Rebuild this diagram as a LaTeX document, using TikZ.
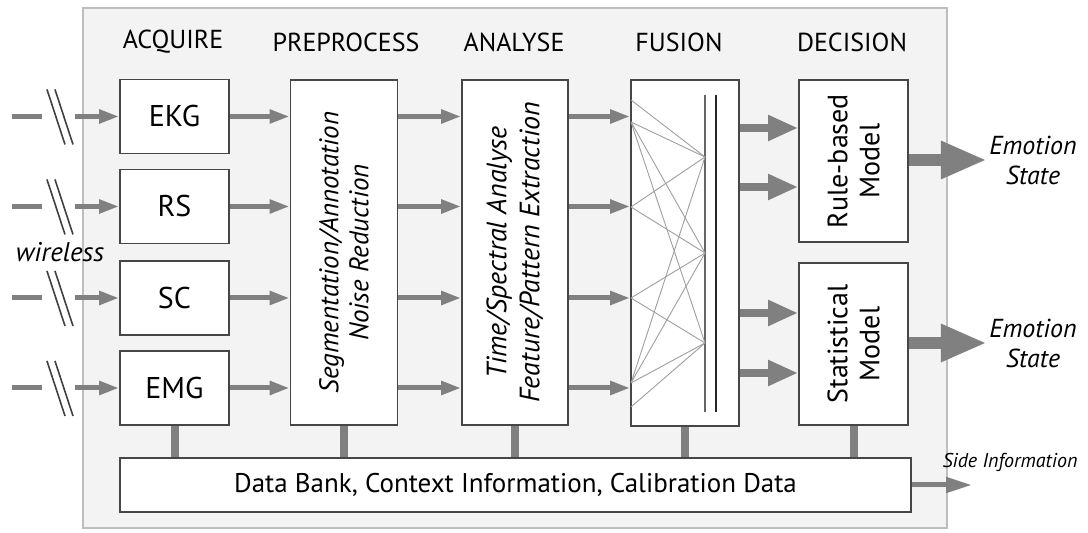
\documentclass[tikz,border=0pt]{standalone}
\usepackage{fontspec}
\setmainfont{PT Sans}
\usetikzlibrary{arrows.meta,positioning}
\definecolor{framefill}{RGB}{243,243,243}
\definecolor{framedraw}{RGB}{190,190,190}
\definecolor{arrowgray}{RGB}{128,128,128}
\definecolor{boxline}{RGB}{70,70,70}

\tikzset{
  stagebox/.style={draw=boxline,line width=0.8pt,fill=white,inner sep=0pt},
  header/.style={font=\fontsize{13}{15}\selectfont},
  thinarrow/.style={arrowgray,line width=2.5pt,-{Triangle[length=10pt,width=6.5pt]}},
  midarrow/.style={arrowgray,line width=4pt,-{Triangle[length=15pt,width=12pt]}},
  bigarrow/.style={arrowgray,line width=6pt,-{Triangle[length=23pt,width=17.5pt]}},
  busline/.style={arrowgray,line width=4pt},
  slashline/.style={black!75,line width=0.8pt},
  netline/.style={gray!75,line width=0.45pt},
  rottext/.style={rotate=90,align=center}
}

\begin{document}
\begin{tikzpicture}[x=0.5pt,y=-0.5pt]
  \useasboundingbox (0,0) rectangle (1088,533);
  \draw[framedraw,fill=framefill,line width=0.8pt] (83,8) rectangle (947,528);

  % stage headers
  \foreach \x/\t/\n in {173/ACQUIRE/hacq,346/PREPROCESS/hpre,514/ANALYSE/hana,679/FUSION/hfus,852/DECISION/hdec}
    \node[header] (\n) at (\x,42) {\t};

  % sensors and wireless inputs
  \foreach \y/\t/\n in {116.5/EKG/ekg,206.5/RS/rs,298/SC/sc,388/EMG/emg} {
    \node[stagebox,minimum width=54.5pt,minimum height=37pt,font=\fontsize{15}{17}\selectfont] (\n) at (174.5,\y) {\t};
    \coordinate (a\n) at (12,\y);
    \coordinate (b\n) at (42,\y);
    \coordinate (c\n) at (75,\y);
    \draw[busline,line width=2.5pt] (a\n) -- (b\n);
    \draw[slashline] ([shift={(5,-27)}]b\n) -- ([shift={(23,28)}]b\n);
    \draw[slashline] ([shift={(13,-27)}]b\n) -- ([shift={(31,28)}]b\n);
    \draw[thinarrow] (c\n) -- (\n.west);
  }
  \node[font=\itshape\fontsize{13.5}{15}\selectfont] (wl) at (60,252) {wireless};

  % processing stages
  \node[stagebox,minimum width=53.5pt,minimum height=172.5pt,
    label={[rottext,font=\itshape\fontsize{13.5}{15}\selectfont]center:Segmentation/Annotation\\Noise Reduction}]
    (pre) at (344,252.5) {};
  \node[stagebox,minimum width=53pt,minimum height=172.5pt,
    label={[rottext,font=\itshape\fontsize{14}{16.5}\selectfont]center:Time/Spectral Analyse\\Feature/Pattern Extraction}]
    (ana) at (515,252.5) {};
  \node[stagebox,minimum width=54pt,minimum height=173pt] (fus) at (685,253) {};
  \node[stagebox,minimum width=54.5pt,minimum height=81pt,
    label={[rottext,font=\fontsize{14}{16}\selectfont]center:Rule-based\\Model}]
    (rule) at (853.5,161) {};
  \node[stagebox,minimum width=54.5pt,minimum height=81pt,
    label={[rottext,font=\fontsize{14}{16}\selectfont]center:Statistical\\Model}]
    (stat) at (853.5,344) {};
  \node[stagebox,minimum width=395.5pt,minimum height=27pt,font=\fontsize{13.5}{15}\selectfont]
    (data) at (515.5,485) {Data Bank, Context Information, Calibration Data};

  % stage to stage
  \foreach \n in {ekg,rs,sc,emg} {
    \draw[thinarrow] (\n.east) -- (\n.east -| pre.west);
    \draw[thinarrow] (\n.east -| pre.east) -- (\n.east -| ana.west);
    \draw[thinarrow] (\n.east -| ana.east) -- (\n.east -| fus.west);
  }

  % fusion net
  \draw[gray!80!black,line width=1.1pt] (705,95) -- (705,412);
  \draw[black!85,line width=0.8pt] (716,95) -- (716,412);
  \foreach \ya/\yb in {100/157,122/157,122/253,122/343,207/157,207/253,298/253,298/343,383/157,383/253,383/343,407/343}
    \draw[netline] (631,\ya) -- (705,\yb);

  \foreach \y in {128,187}
    \draw[midarrow] (fus.east |- 0,\y) -- (rule.west |- 0,\y);
  \foreach \y in {313,373}
    \draw[midarrow] (fus.east |- 0,\y) -- (stat.west |- 0,\y);

  % outputs
  \node[align=center,inner sep=1pt,font=\itshape\fontsize{13}{15}\selectfont] (em1) at (1033,160) {Emotion\\State};
  \node[align=center,inner sep=1pt,font=\itshape\fontsize{13}{15}\selectfont] (em2) at (1033,343) {Emotion\\State};
  \draw[bigarrow] (rule.east |- em1) -- (em1.west);
  \draw[bigarrow] (stat.east |- em2) -- (em2.west);

  % data bank links
  \foreach \n in {emg,pre,ana,fus,stat}
    \draw[busline] (\n.south) -- (\n.south |- data.north);
  \node[font=\itshape\fontsize{10}{12}\selectfont] (side) at (1010,462) {Side Information};
  \coordinate (sideend) at (972,485);
  \draw[thinarrow,-{Triangle[length=13pt,width=7.5pt]}] (data.east) -- (sideend);
\end{tikzpicture}
\end{document}
